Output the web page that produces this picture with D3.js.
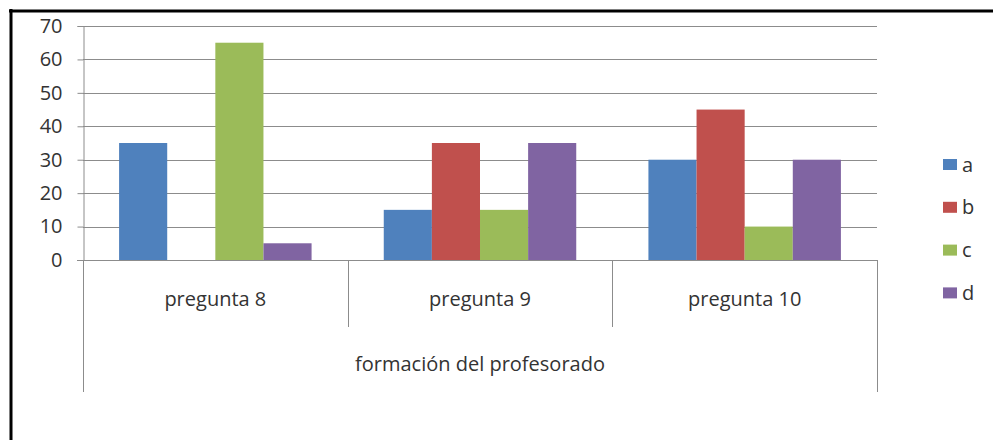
<!DOCTYPE html>
<html>
<head>
<meta charset="utf-8">
<script src="https://cdn.jsdelivr.net/npm/d3@7"></script>
<style>
  body { margin: 0; background: #fff; }
  text { font-family: "Open Sans", "Noto Sans", sans-serif; fill: #333; }
</style>
</head>
<body>
<svg width="993" height="440"></svg>
<script>
  // data
  var categories = ["pregunta 8", "pregunta 9", "pregunta 10"];
  var groupLabel = "formación del profesorado";
  var seriesNames = ["a", "b", "c", "d"];
  var seriesColors = ["#4F81BD", "#C0504D", "#9BBB59", "#8064A2"];
  var valuesA = [35, 15, 30];
  var valuesB = [0, 35, 45];
  var valuesC = [65, 15, 10];
  var valuesD = [5, 35, 30];
  var yTicks = [0, 10, 20, 30, 40, 50, 60, 70];

  var series = [valuesA, valuesB, valuesC, valuesD];

  var svg = d3.select("svg");
  var width = +svg.attr("width");
  var height = +svg.attr("height");
  var fontSize = 20;

  // frame
  svg.append("line").attr("x1", 9).attr("y1", 11).attr("x2", width).attr("y2", 11)
    .attr("stroke", "#000").attr("stroke-width", 3);
  svg.append("line").attr("x1", 11).attr("y1", 9).attr("x2", 11).attr("y2", height)
    .attr("stroke", "#000").attr("stroke-width", 3);

  var plotLeft = 83, plotRight = 877, plotTop = 26, plotBottom = 260;

  var y = d3.scaleLinear().domain([0, 70]).range([plotBottom, plotTop]);
  var x0 = d3.scaleBand().domain(categories).range([plotLeft, plotRight]);
  // gap width 150% like the spreadsheet default
  var bw = x0.bandwidth();
  var x1 = d3.scaleBand().domain(seriesNames).range([bw * 0.75 / 5.5, bw * 4.75 / 5.5]);

  // gridlines
  svg.append("g").selectAll("line").data(yTicks.filter(function(d) { return d > 0; })).enter()
    .append("line")
    .attr("x1", plotLeft).attr("x2", plotRight)
    .attr("y1", function(d) { return Math.round(y(d)) + 0.5; })
    .attr("y2", function(d) { return Math.round(y(d)) + 0.5; })
    .attr("stroke", "#8c8c8c").attr("stroke-width", 1);

  // y axis
  var yAxis = svg.append("g").attr("transform", "translate(" + (plotLeft + 0.5) + ",0)")
    .call(d3.axisLeft(y).tickValues(yTicks).tickSize(6).tickPadding(15));
  yAxis.select(".domain").attr("stroke", "#8c8c8c");
  yAxis.selectAll(".tick line").attr("stroke", "#8c8c8c");
  yAxis.selectAll("text").attr("font-size", fontSize).style("fill", "#333")
    .attr("font-family", "'Open Sans', sans-serif");

  // bars
  var groups = svg.append("g").selectAll("g").data(seriesNames).enter().append("g")
    .attr("fill", function(d, i) { return seriesColors[i]; });
  groups.selectAll("rect").data(function(s, i) { return series[i].map(function(v, j) { return { s: s, v: v, c: categories[j] }; }); })
    .enter().append("rect")
    .attr("x", function(d) { return x0(d.c) + x1(d.s); })
    .attr("width", x1.bandwidth())
    .attr("y", function(d) { return y(d.v); })
    .attr("height", function(d) { return plotBottom - y(d.v); });

  // x axis line
  svg.append("line").attr("x1", plotLeft - 6).attr("x2", plotRight).attr("y1", plotBottom + 0.5).attr("y2", plotBottom + 0.5)
    .attr("stroke", "#8c8c8c");

  // category dividers
  var edges = [plotLeft, x0(categories[1]), x0(categories[2]), plotRight];
  svg.append("g").selectAll("line").data(edges).enter().append("line")
    .attr("x1", function(d) { return Math.round(d) + 0.5; }).attr("x2", function(d) { return Math.round(d) + 0.5; })
    .attr("y1", plotBottom)
    .attr("y2", function(d, i) { return (i === 0 || i === edges.length - 1) ? 392 : 327; })
    .attr("stroke", "#8c8c8c");

  // category labels
  svg.append("g").selectAll("text").data(categories).enter().append("text")
    .attr("x", function(d) { return x0(d) + bw / 2; })
    .attr("y", 306)
    .attr("text-anchor", "middle")
    .attr("font-size", fontSize)
    .text(function(d) { return d; });

  svg.append("text")
    .attr("x", (plotLeft + plotRight) / 2).attr("y", 371)
    .attr("text-anchor", "middle").attr("font-size", fontSize)
    .text(groupLabel);

  // legend
  var legend = svg.append("g").selectAll("g").data(seriesNames).enter().append("g")
    .attr("transform", function(d, i) { return "translate(943," + (164.5 + i * 42.8) + ")"; });
  legend.append("rect").attr("y", -5.5).attr("width", 14).attr("height", 11)
    .attr("fill", function(d, i) { return seriesColors[i]; });
  legend.append("text").attr("x", 19).attr("y", 0).attr("dy", "0.35em").attr("font-size", fontSize)
    .text(function(d) { return d; });
</script>
</body>
</html>
